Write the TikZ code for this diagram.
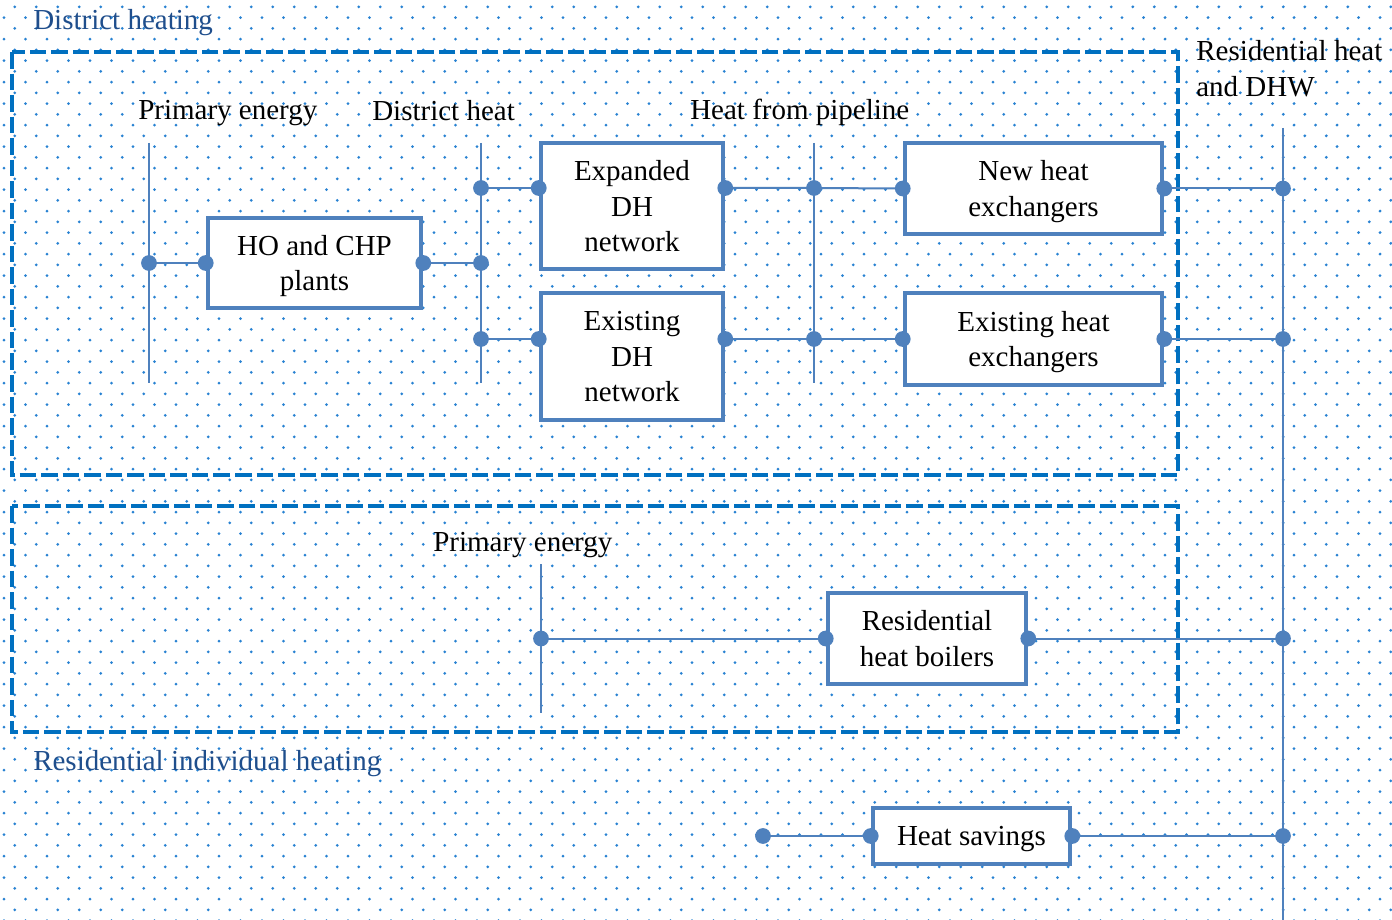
\documentclass[tikz,border=0pt]{standalone}
\usepackage{fontspec}
\setmainfont{Liberation Serif}
\definecolor{boxblue}{RGB}{79,129,189}
\definecolor{frameblue}{RGB}{0,112,192}
\definecolor{labelblue}{RGB}{31,78,140}
\definecolor{dotblue}{RGB}{40,130,210}
\begin{document}
\begin{tikzpicture}[x=0.75pt, y=-0.75pt,
    every node/.style={font=\fontsize{21.75}{26.5}\selectfont},
    box/.style={draw=boxblue, line width=3.4pt, fill=white, align=center, inner sep=0pt, text depth=0pt},
    conn/.style={draw=boxblue, line width=1.5pt},
    frame/.style={draw=frameblue, line width=3pt, dash pattern=on 12.4pt off 3.75pt},
    junc/.style={fill=boxblue},
    lbl/.style={anchor=base west, inner sep=0pt},
    grp/.style={lbl, text=labelblue}]
    \useasboundingbox (0,0) rectangle (1392,920);
    \fill[white] (0,0) rectangle (1392,920);

    % Fond pointillé
    \foreach \row in {0,...,85} {
        \pgfmathsetmacro\xo{4+10.75*(1-mod(\row,2))}
        \fill[dotblue] \foreach \col in {0,...,64} {({\xo+21.5*\col},{6.8+10.75*\row}) circle[radius=1.15pt]};
    }

    % Cadres en tirets
    \draw[frame] (12,52) rectangle (1178,475);
    \draw[frame] (12,506) rectangle (1178,732);
    \node[grp] (dhlbl) at (33,30) {District heating};
    \node[grp] (rihlbl) at (33,770) {Residential individual heating};

    % Étiquettes des barres
    \node[lbl] (pe1lbl) at (138,120) {Primary energy};
    \node[lbl] (dhlbl2) at (372,121) {District heat};
    \node[lbl] (pipelbl) at (690,120) {Heat from pipeline};
    \node[lbl, anchor=north west, align=left] (reslbl) at (1196,40.5) {Residential heat\\and DHW};
    \node[lbl] (pe2lbl) at (433,551) {Primary energy};

    % Boîtes
    \node[box, minimum width=159.75pt, minimum height=67.5pt] (hochp) at (314.5,263) {HO and CHP\\plants};
    \node[box, minimum width=136.5pt, minimum height=94.5pt] (expdh) at (632,206) {Expanded\\DH\\network};
    \node[box, minimum width=136.5pt, minimum height=95.25pt] (exdh) at (632,356.5) {Existing\\DH\\network};
    \node[box, minimum width=192.75pt, minimum height=68.25pt] (newhx) at (1033.5,188.5) {New heat\\exchangers};
    \node[box, minimum width=192.75pt, minimum height=69pt] (exhx) at (1033.5,339) {Existing heat\\exchangers};
    \node[box, minimum width=148.5pt, minimum height=68.25pt] (resboil) at (927,638.5) {Residential\\heat boilers};
    \node[box, minimum width=147.75pt, minimum height=42pt] (heatsav) at (971.5,836) {Heat savings};

    % Barres verticales
    \coordinate (pe1-top) at (149,143);  \coordinate (pe1-bot) at (149,383);
    \coordinate (dh-top) at (481,143);   \coordinate (dh-bot) at (481,383);
    \coordinate (pipe-top) at (814,143); \coordinate (pipe-bot) at (814,383);
    \coordinate (res-top) at (1283,128); \coordinate (res-bot) at (1283,920);
    \coordinate (pe2-top) at (541,564);  \coordinate (pe2-bot) at (541,713);
    \draw[conn] (pe1-top) -- (pe1-bot);
    \draw[conn] (dh-top) -- (dh-bot);
    \draw[conn] (pipe-top) -- (pipe-bot);
    \draw[conn] (res-top) -- (res-bot);
    \draw[conn] (pe2-top) -- (pe2-bot);

    % Points de jonction
    \coordinate (pe1-j) at (149,263);
    \coordinate (dh-j1) at (481,188);
    \coordinate (dh-j2) at (481,263);
    \coordinate (dh-j3) at (481,339);
    \coordinate (pipe-j1) at (814,188);
    \coordinate (pipe-j2) at (814,339);
    \coordinate (res-j1) at (1283,188.5);
    \coordinate (res-j2) at (1283,339);
    \coordinate (res-j3) at (1283,638.5);
    \coordinate (res-j4) at (1283,836);
    \coordinate (pe2-j) at (541,638.5);
    \coordinate (sav-in) at (763,836);
    \coordinate (expdh-w) at (expdh.west |- dh-j1);
    \coordinate (expdh-e) at (expdh.east |- dh-j1);
    \coordinate (exdh-w) at (exdh.west |- dh-j3);
    \coordinate (exdh-e) at (exdh.east |- dh-j3);

    % Liaisons
    \draw[conn] (pe1-j) -- (hochp.west);
    \draw[conn] (hochp.east) -- (dh-j2);
    \draw[conn] (dh-j1) -- (expdh-w);
    \draw[conn] (dh-j3) -- (exdh-w);
    \draw[conn] (expdh-e) -- (pipe-j1) -- (newhx.west);
    \draw[conn] (exdh-e) -- (pipe-j2) -- (exhx.west);
    \draw[conn] (newhx.east) -- (res-j1);
    \draw[conn] (exhx.east) -- (res-j2);
    \draw[conn] (pe2-j) -- (resboil.west);
    \draw[conn] (resboil.east) -- (res-j3);
    \draw[conn] (sav-in) -- (heatsav.west);
    \draw[conn] (heatsav.east) -- (res-j4);

    \foreach \j in {pe1-j, hochp.west, hochp.east, dh-j1, dh-j2, dh-j3, expdh-w, expdh-e, exdh-w, exdh-e,
        pipe-j1, pipe-j2, newhx.west, newhx.east, exhx.west, exhx.east, res-j1, res-j2, res-j3, res-j4,
        pe2-j, resboil.west, resboil.east, sav-in, heatsav.west, heatsav.east}
        \fill[junc] (\j) circle[radius=5.9pt];
\end{tikzpicture}
\end{document}
